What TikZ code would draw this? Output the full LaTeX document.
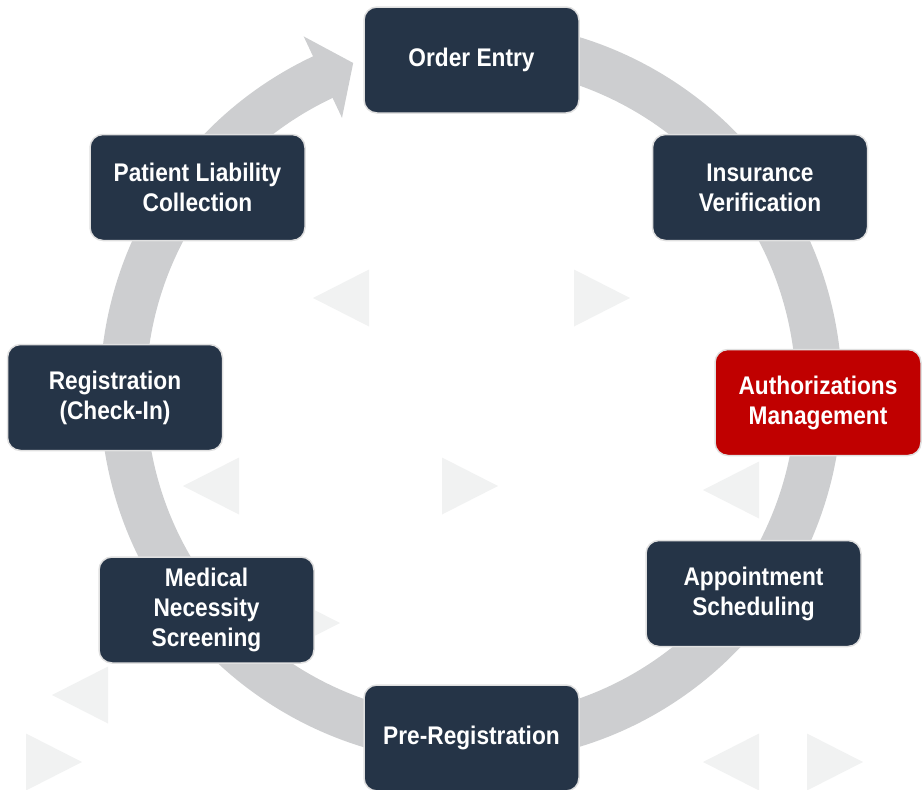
\documentclass[tikz,border=0pt]{standalone}
\usepackage{fontspec}
\newfontfamily\stagefont{Liberation Sans}[FakeStretch=0.89]
\definecolor{navy}{HTML}{253447}
\definecolor{alert}{HTML}{C00000}
\definecolor{ringgray}{HTML}{CDCED0}
\definecolor{ghost}{HTML}{F1F2F2}

\begin{document}
\begin{tikzpicture}[x=1pt,y=-1pt,
    stage/.style={draw=black!12, line width=1.5pt, fill=navy, rounded corners=13pt,
      minimum width=215pt, minimum height=106pt, inner sep=0pt, text=white,
      align=center, font=\stagefont\bfseries\fontsize{25.5}{30}\selectfont},
    hot/.style={stage, fill=alert, minimum width=206pt}]
  \useasboundingbox (0,0) rectangle (922,790);
  % pale triangles behind everything: tip x/y, pointing right (1) or left (-1)
  \foreach \x/\y/\d in {313/298/-1, 630/298/1, 498/486/1, 183/486/-1, 703/490/-1,
      340/623/1, 52/695/-1, 82/762/1, 703/762/-1, 863/762/1}
    \fill[ghost] (\x,\y) -- ++(-\d*56,-28.5) -- ++(0,57) -- cycle;
  % the cycle ring, ending in a head just left of the first step
  \coordinate (c) at (471,392);
  \draw[ringgray, line width=46pt] ([shift={(260:348)}]c) arc[start angle=260, end angle=605.5, radius=348];
  \fill[ringgray] ([shift={(244.8:393)}]c) -- ([shift={(250.3:349.5)}]c) -- ([shift={(244.8:303)}]c) -- cycle;
  \node[stage](order) at (471.5,60){Order Entry};
  \node[stage](ins) at (760,187.5){Insurance\\Verification};
  \node[hot](auth) at (818,402.5){Authorizations\\Management};
  \node[stage](appt) at (753.5,593.5){Appointment\\Scheduling};
  \node[stage](prereg) at (471.5,738){Pre-Registration};
  \node[stage](med) at (206.5,610){Medical\\Necessity\\Screening};
  \node[stage](reg) at (115,397.5){Registration\\(Check-In)};
  \node[stage](pay) at (197.5,187.5){Patient Liability\\Collection};
\end{tikzpicture}
\end{document}
